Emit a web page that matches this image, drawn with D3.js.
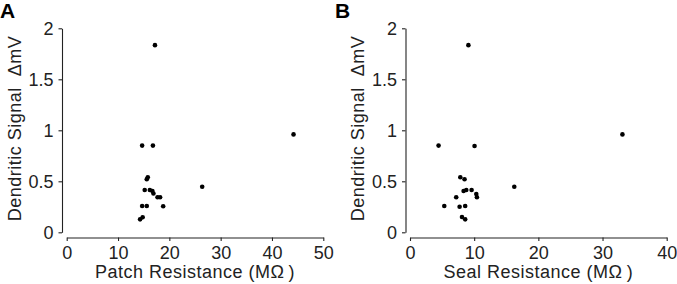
<!DOCTYPE html>
<html lang="en">
<head>
<meta charset="UTF-8">
<title>Dendritic signal vs resistance</title>
<script src="https://cdn.jsdelivr.net/npm/d3@7"></script>
<style>
  body { margin: 0; background: #fff; }
  svg text { font-family: 'Liberation Sans', Arial, sans-serif; fill: #222; }
  .axis path, .axis line { stroke: #222; stroke-width: 1.1; }
  .axis text { font-size: 18px; }
  .title { font-size: 18px; letter-spacing: 0.5px; }
</style>
</head>
<body>
<svg id="chart" width="677" height="284"></svg>
<script>
  // Panel A: patch resistance (MOhm) vs dendritic signal (mV)
  const patchRes = [17.2, 44.2, 14.7, 16.8, 26.4, 15.6, 15.8, 15.2, 16.2, 16.7, 16.9, 17.7, 18.2, 14.7, 15.6, 18.8, 14.3, 14.8];
  const patchSignal = [1.835, 0.96, 0.85, 0.85, 0.447, 0.52, 0.54, 0.415, 0.415, 0.405, 0.38, 0.343, 0.343, 0.258, 0.258, 0.255, 0.127, 0.147];

  // Panel B: seal resistance (MOhm) vs dendritic signal (mV)
  const sealRes = [9.1, 33.1, 4.45, 10.06, 16.25, 7.84, 8.5, 8.35, 8.77, 9.6, 10.33, 10.43, 7.2, 5.34, 7.73, 8.6, 8.1, 8.6];
  const sealSignal = [1.835, 0.96, 0.85, 0.846, 0.447, 0.54, 0.52, 0.405, 0.415, 0.415, 0.375, 0.343, 0.343, 0.258, 0.251, 0.258, 0.15, 0.127];

  const yTicks = [0, 0.5, 1, 1.5, 2];
  const xTicksA = [0, 10, 20, 30, 40, 50];
  const xTicksB = [0, 10, 20, 30, 40];

  const svg = d3.select("#chart");

  function drawPanel(opts) {
    const g = svg.append("g");
    const x = d3.scaleLinear().domain(opts.xDomain).range(opts.xRange);
    const y = d3.scaleLinear().domain([0, 2]).range([232.3, 28.3]);

    // detached axes
    g.append("g").attr("class", "axis")
      .attr("transform", `translate(0,${237.5})`)
      .call(d3.axisBottom(x).tickValues(opts.xTicks).tickFormat(d3.format("d"))
        .tickSizeInner(3.5).tickSizeOuter(0).tickPadding(5));

    g.append("g").attr("class", "axis")
      .attr("transform", `translate(${opts.yAxisX},0)`)
      .call(d3.axisLeft(y).tickValues(yTicks).tickFormat(d => d)
        .tickSizeInner(3.5).tickSizeOuter(0).tickPadding(5));

    g.selectAll(".dot").data(opts.xs).enter()
      .append("circle").attr("class", "dot")
      .attr("cx", d => x(d))
      .attr("cy", (d, i) => y(opts.ys[i]))
      .attr("r", 2.3)
      .attr("fill", "#000");

    // axis titles
    g.append("text").attr("class", "title")
      .attr("x", (opts.xRange[0] + opts.xRange[1]) / 2)
      .attr("y", 277.5)
      .attr("text-anchor", "middle")
      .text(opts.xTitle);

    g.append("text").attr("class", "title")
      .attr("transform", `translate(${opts.yAxisX - 41.5},128.5) rotate(-90)`)
      .attr("text-anchor", "middle")
      .style("white-space", "pre")
      .style("letter-spacing", "0.5px")
      .text("Dendritic Signal  \u0394mV");

    // panel letter
    g.append("text")
      .attr("x", opts.letterX)
      .attr("y", 18)
      .attr("font-size", 21)
      .attr("font-weight", "bold")
      .style("fill", "#000")
      .text(opts.letter);
  }

  drawPanel({
    xs: patchRes, ys: patchSignal,
    xDomain: [0, 50], xRange: [66.7, 323.3], xTicks: xTicksA,
    yAxisX: 62, xTitle: "Patch Resistance (M\u03A9\u2009)",
    letter: "A", letterX: 0
  });

  drawPanel({
    xs: sealRes, ys: sealSignal,
    xDomain: [0, 40], xRange: [410, 666.7], xTicks: xTicksB,
    yAxisX: 405.5, xTitle: "Seal Resistance (M\u03A9\u2009)",
    letter: "B", letterX: 335
  });
</script>
</body>
</html>
